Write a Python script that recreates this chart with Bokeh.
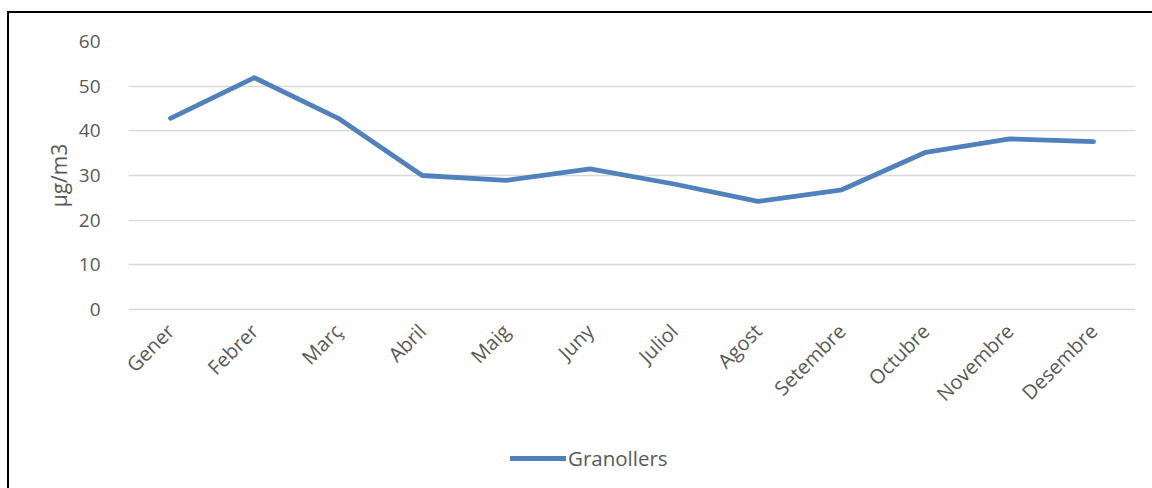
from bokeh.plotting import figure
from bokeh.layouts import column
from bokeh.models import Range1d, FactorRange, Legend, LegendItem, FixedTicker
from bokeh.embed import file_html
from bokeh.resources import INLINE

months = ["Gener", "Febrer", "Març", "Abril", "Maig", "Juny", "Juliol",
          "Agost", "Setembre", "Octubre", "Novembre", "Desembre"]
granollers = [42.8, 51.9, 42.8, 30.0, 28.9, 31.5, 28.1, 24.2, 26.8, 35.2, 38.2, 37.6]
y_ticks = [0, 10, 20, 30, 40, 50, 60]
series_name = "Granollers"

FONT = "Open Sans"
GREY = "#595959"
BLUE = "#4F81BD"

p = figure(width=1143, height=417, output_backend="svg", toolbar_location=None,
           x_range=FactorRange(*months, range_padding=0), y_range=Range1d(0, 60),
           min_border_left=119, min_border_top=28, min_border_right=17,
           min_border_bottom=121)
p.outline_line_color = None
p.background_fill_color = "white"
p.border_fill_color = "white"

p.line(months, granollers, line_color=BLUE, line_width=4.8,
       line_join="round", line_cap="round")

p.yaxis.ticker = FixedTicker(ticks=y_ticks)
p.yaxis.axis_line_color = None
p.yaxis.major_tick_line_color = None
p.yaxis.minor_tick_line_color = None
p.yaxis.major_label_text_font = FONT
p.yaxis.major_label_text_font_size = "19px"
p.yaxis.major_label_text_color = GREY
p.yaxis.major_label_standoff = 22
p.yaxis.axis_label = "µg/m3"
p.yaxis.axis_label_text_font = FONT
p.yaxis.axis_label_text_font_size = "21px"
p.yaxis.axis_label_text_font_style = "normal"
p.yaxis.axis_label_text_color = GREY
p.yaxis.axis_label_standoff = 3

p.xaxis.axis_line_color = "#d9d9d9"
p.xaxis.axis_line_width = 1.5
p.xaxis.major_tick_line_color = None
p.xaxis.minor_tick_line_color = None
p.xaxis.major_label_orientation = 0.785398
p.xaxis.major_label_text_font = FONT
p.xaxis.major_label_text_font_size = "20px"
p.xaxis.major_label_text_color = GREY
p.xaxis.major_label_standoff = 12

p.xgrid.grid_line_color = None
p.ygrid.grid_line_color = "#d9d9d9"
p.ygrid.grid_line_width = 1.5

# legend strip
q = figure(width=1143, height=58, output_backend="svg", toolbar_location=None,
           x_range=Range1d(0, 1), y_range=Range1d(0, 1),
           min_border=0, x_axis_location=None, y_axis_location=None)
q.outline_line_color = None
q.grid.visible = False
q.background_fill_color = "white"
q.border_fill_color = "white"
dummy = q.line(x=[5, 6], y=[5, 6], line_color=BLUE, line_width=4.8, line_cap="round")
legend = Legend(items=[LegendItem(label=series_name, renderers=[dummy])],
                location=(382, 16), orientation="horizontal",
                label_text_font=FONT, label_text_font_size="20.5px",
                label_text_color=GREY, border_line_color=None,
                background_fill_alpha=0, glyph_width=56, label_standoff=2,
                margin=0, padding=0)
q.add_layout(legend, "center")

layout = column(p, q, spacing=0)
layout.styles = {"margin-left": "7px", "margin-top": "11px",
                 "border-top": "2px solid black", "border-left": "2px solid black"}

open("out.html", "w").write(file_html(layout, INLINE))
